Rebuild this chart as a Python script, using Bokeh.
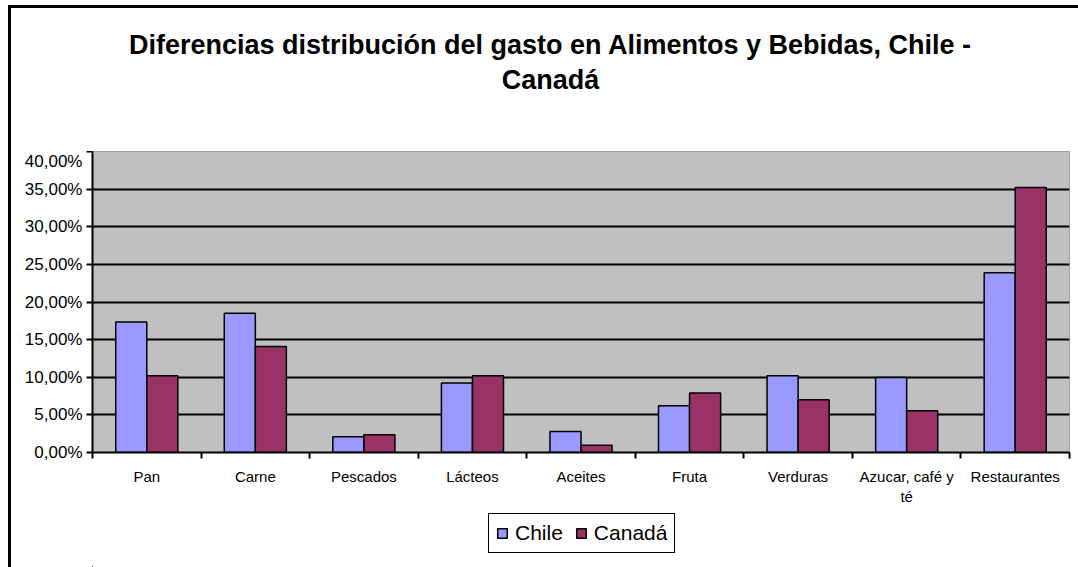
from bokeh.plotting import figure
from bokeh.layouts import column
from bokeh.models import (ColumnDataSource, FixedTicker, CustomJSTickFormatter, Legend, LegendItem,
                          Grid, Range1d, Label)
from bokeh.embed import file_html
from bokeh.resources import INLINE

categories = ["Pan", "Carne", "Pescados", "Lácteos", "Aceites", "Fruta", "Verduras",
              "Azucar, café y\nté", "Restaurantes"]
chile = [0.1733, 0.185, 0.021, 0.0925, 0.028, 0.062, 0.102, 0.0996, 0.239]
canada = [0.102, 0.141, 0.0235, 0.102, 0.0098, 0.079, 0.070, 0.0556, 0.352]
y_ticks = [0.0, 0.05, 0.10, 0.15, 0.20, 0.25, 0.30, 0.35, 0.40]
title_lines = ["Diferencias distribución del gasto en Alimentos y Bebidas, Chile -", "Canadá"]
series_names = ["Chile", "Canadá"]
colors = ["#9999FF", "#993366"]

FONT = "Liberation Sans"
n = len(categories)
idx = list(range(n))
src = ColumnDataSource(dict(
    xc=[i + 0.5 - 0.143 for i in idx],
    xk=[i + 0.5 + 0.143 for i in idx],
    chile=chile, canada=canada))

# ---- title strip (its frame is aligned with the chart frame: window x 92..1069) ----
t = figure(width=1067, height=143, output_backend="svg", toolbar_location=None,
           x_range=Range1d(92, 1069), y_range=Range1d(143, 0), title=None,
           min_border=0, x_axis_location=None, y_axis_location=None)
t.outline_line_color = None
t.xgrid.visible = False
t.ygrid.visible = False
t.background_fill_color = "white"
t.border_fill_color = "white"
for i, line in enumerate(title_lines):
    t.add_layout(Label(x=550, y=36 + 35 * i, text=line, text_align="center",
                       text_baseline="alphabetic", text_font=FONT, text_font_style="bold",
                       text_font_size="27px", text_color="black"))

# ---- chart ----
p = figure(frame_width=977, frame_height=301, output_backend="svg", toolbar_location=None,
           x_range=Range1d(0, n), y_range=Range1d(0, 0.40), title=None,
           min_border_left=81, min_border_right=9, min_border_top=0, min_border_bottom=60)
p.background_fill_color = "#C0C0C0"
p.border_fill_color = "white"
p.outline_line_color = "#A0A0A0"
p.outline_line_width = 1
p.xgrid.visible = False
p.ygrid.visible = False

r1 = p.vbar(x="xc", top="chile", width=0.286, source=src, fill_color=colors[0],
            line_color="black", line_width=1.5)
r2 = p.vbar(x="xk", top="canada", width=0.286, source=src, fill_color=colors[1],
            line_color="black", line_width=1.5)

yax = p.yaxis[0]
yax.ticker = FixedTicker(ticks=y_ticks)
yax.formatter = CustomJSTickFormatter(code="return (tick*100).toFixed(2).replace('.', ',') + '%';")
yax.axis_line_color = "black"
yax.axis_line_width = 2
yax.major_tick_out = 6
yax.major_tick_in = 0
yax.major_tick_line_width = 2
yax.minor_tick_out = 0
yax.minor_tick_in = 0
yax.major_label_text_font = FONT
yax.major_label_text_font_size = "17px"
yax.major_label_text_color = "black"
yax.major_label_standoff = 4

grid = Grid(dimension=1, ticker=FixedTicker(ticks=y_ticks[1:-1]), grid_line_color="black",
            grid_line_width=2)
p.add_layout(grid)

xax = p.xaxis[0]
xax.ticker = FixedTicker(ticks=[i + 0.5 for i in idx], minor_ticks=list(range(n + 1)))
xax.major_label_overrides = {i + 0.5: c for i, c in zip(idx, categories)}
xax.axis_line_color = "black"
xax.axis_line_width = 2
xax.major_tick_out = 0
xax.major_tick_in = 0
xax.minor_tick_out = 6
xax.minor_tick_in = 0
xax.minor_tick_line_color = "black"
xax.minor_tick_line_width = 2
xax.major_label_text_font = FONT
xax.major_label_text_font_size = "15px"
xax.major_label_text_color = "black"
xax.major_label_standoff = 9

# ---- legend strip (its bars lie far outside its visible ranges; only the legend shows) ----
b = figure(width=1067, height=55, output_backend="svg", toolbar_location=None,
           x_range=Range1d(1000, 1001), y_range=Range1d(1, 2), title=None,
           min_border=0, x_axis_location=None, y_axis_location=None)
b.outline_line_color = None
b.xgrid.visible = False
b.ygrid.visible = False
b.background_fill_color = "white"
b.border_fill_color = "white"
lr1 = b.vbar(x="xc", top="chile", width=0.286, source=src, fill_color=colors[0],
             line_color="black", line_width=1.5)
lr2 = b.vbar(x="xk", top="canada", width=0.286, source=src, fill_color=colors[1],
             line_color="black", line_width=1.5)
legend = Legend(items=[LegendItem(label=series_names[0], renderers=[lr1]),
                       LegendItem(label=series_names[1], renderers=[lr2])],
                orientation="horizontal", location=(396, 14))
legend.label_text_font = FONT
legend.label_text_font_size = "21px"
legend.label_text_color = "black"
legend.glyph_width = 12
legend.glyph_height = 12
legend.spacing = 12
legend.label_standoff = 7
legend.padding = 7
legend.margin = 0
legend.border_line_color = "black"
legend.border_line_alpha = 1
legend.border_line_width = 1.5
legend.background_fill_color = "white"
b.add_layout(legend, "center")

layout = column(t, p, b, spacing=0)
layout.margin = (5, 0, 0, 8)
layout.styles = {"border-left": "3px solid black", "border-top": "3px solid black"}

open("out.html", "w").write(file_html(layout, INLINE))
